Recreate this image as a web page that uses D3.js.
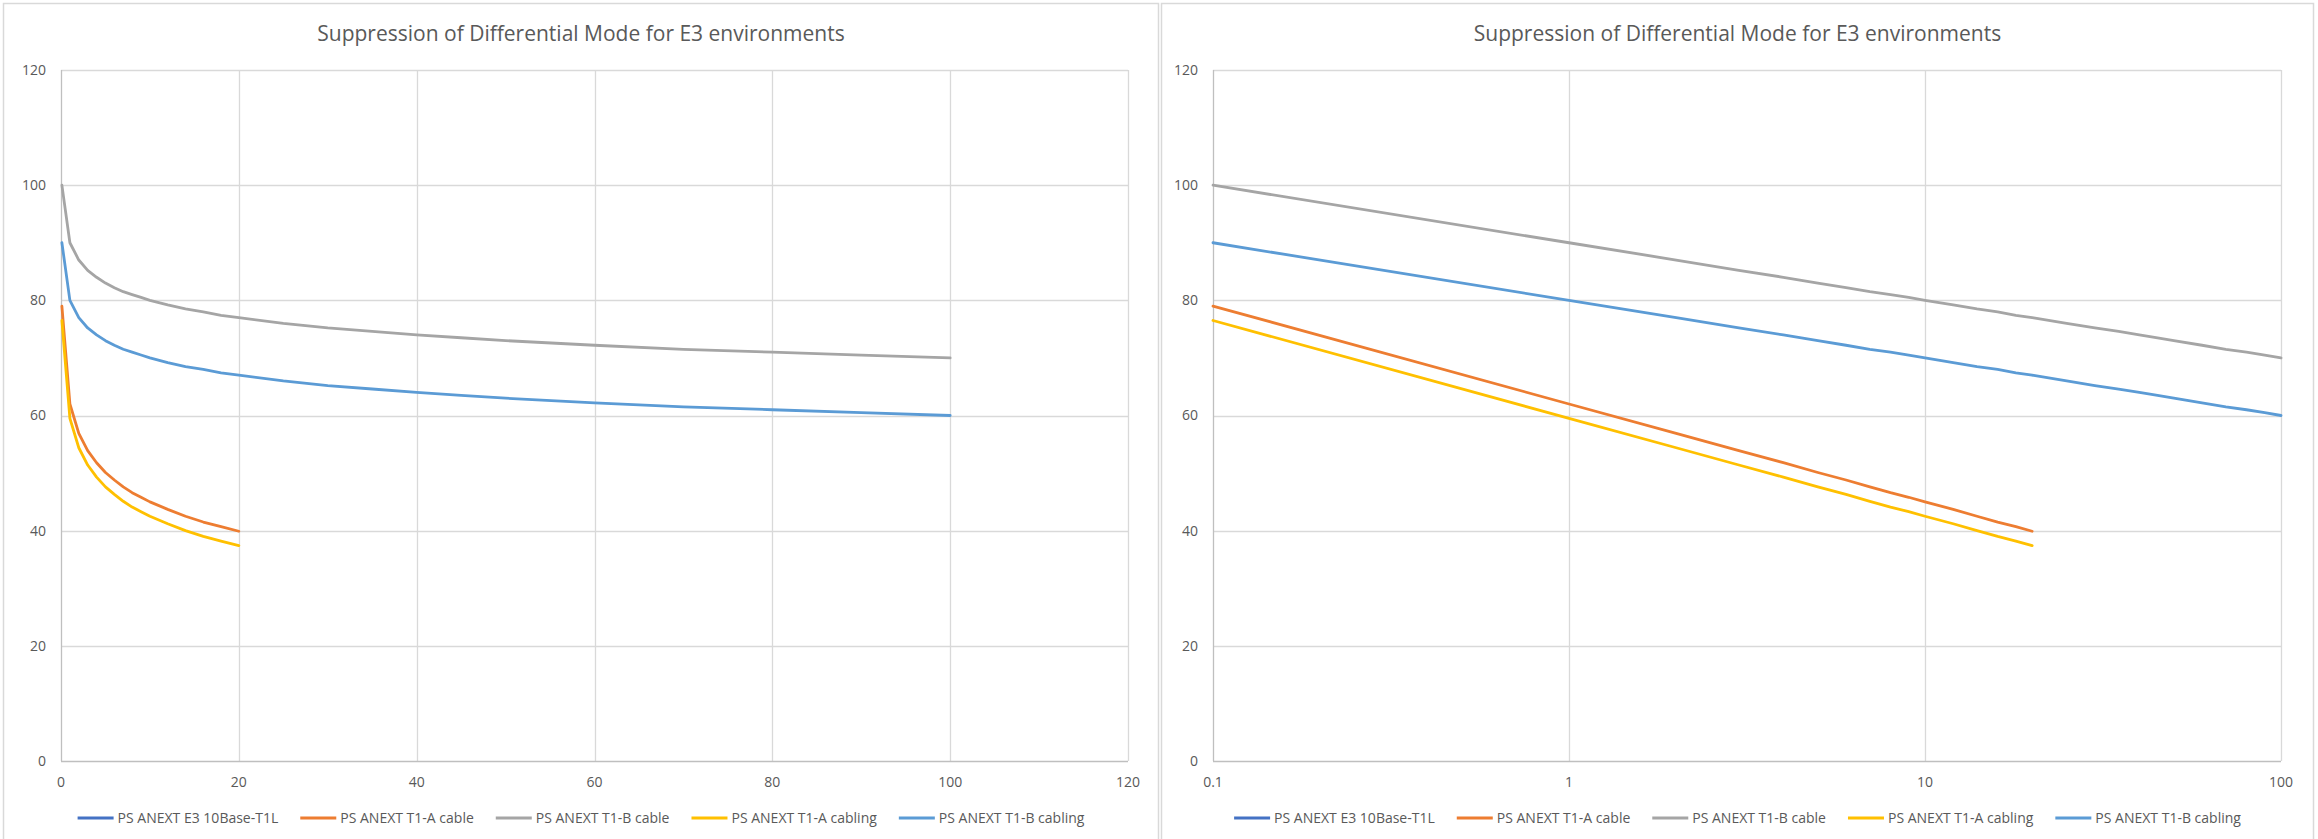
<!DOCTYPE html>
<html><head><meta charset="utf-8">
<script src="https://cdn.jsdelivr.net/npm/d3@7"></script>
<style>body{margin:0;background:#fff}svg{display:block}</style>
</head><body>
<svg id="c" width="2318" height="839"></svg>
<script>
// ---- data ----
const titleText = "Suppression of Differential Mode for E3 environments";
const seriesNames = ["PS ANEXT E3 10Base-T1L", "PS ANEXT T1-A cable", "PS ANEXT T1-B cable", "PS ANEXT T1-A cabling", "PS ANEXT T1-B cabling"];
const seriesColors = ["#4472C4", "#ED7D31", "#A5A5A5", "#FFC000", "#5B9BD5"];

const freqB = [0.1, 1, 2, 3, 4, 5, 6, 7, 8, 9, 10, 12, 14, 16, 18, 20, 25, 30, 35, 40, 45, 50, 60, 70, 80, 90, 100];
const t1bCable = [100, 90, 87.0, 85.2, 84.0, 83.0, 82.2, 81.5, 81.0, 80.5, 80.0, 79.2, 78.5, 78.0, 77.4, 77.0, 76.0, 75.2, 74.6, 74.0, 73.5, 73.0, 72.2, 71.5, 71.0, 70.5, 70.0];
const t1bCabling = [90, 80, 77.0, 75.2, 74.0, 73.0, 72.2, 71.5, 71.0, 70.5, 70.0, 69.2, 68.5, 68.0, 67.4, 67.0, 66.0, 65.2, 64.6, 64.0, 63.5, 63.0, 62.2, 61.5, 61.0, 60.5, 60.0];

const freqA = [0.1, 1, 2, 3, 4, 5, 6, 7, 8, 9, 10, 12, 14, 16, 18, 20];
const t1aCable = [79.0, 62.0, 56.9, 53.9, 51.8, 50.1, 48.8, 47.6, 46.6, 45.8, 45.0, 43.7, 42.5, 41.5, 40.7, 39.9];
const t1aCabling = [76.5, 59.5, 54.4, 51.4, 49.3, 47.6, 46.3, 45.1, 44.1, 43.3, 42.5, 41.2, 40.0, 39.0, 38.2, 37.4];

const e3Freq = [];      // series present in legend only, no visible line
const e3Values = [];

const yTicks = [0, 20, 40, 60, 80, 100, 120];
const xTicksLin = [0, 20, 40, 60, 80, 100, 120];
const xTicksLog = [0.1, 1, 10, 100];

// ---- build ----
const series = [
  {name: seriesNames[0], color: seriesColors[0], x: e3Freq, y: e3Values},
  {name: seriesNames[1], color: seriesColors[1], x: freqA, y: t1aCable},
  {name: seriesNames[2], color: seriesColors[2], x: freqB, y: t1bCable},
  {name: seriesNames[3], color: seriesColors[3], x: freqA, y: t1aCabling},
  {name: seriesNames[4], color: seriesColors[4], x: freqB, y: t1bCabling}
];

const svg = d3.select("#c");
const FONT = "'Open Sans', sans-serif";
const TXT = "#595959";

function panel(cfg) {
  const g = svg.append("g");
  g.append("rect").attr("x", cfg.bx0 + 0.5).attr("y", 3.5)
    .attr("width", cfg.bx1 - cfg.bx0 - 1).attr("height", 900)
    .attr("fill", "#fff").attr("stroke", "#d9d9d9").attr("stroke-width", 1.5);

  const x = cfg.log
    ? d3.scaleLog().domain([0.1, 100]).range([cfg.left, cfg.right])
    : d3.scaleLinear().domain([0, 120]).range([cfg.left, cfg.right]);
  const y = d3.scaleLinear().domain([0, 120]).range([761, 70]);
  const xt = cfg.log ? xTicksLog : xTicksLin;

  g.selectAll(".hg").data(yTicks.filter(d => d > 0)).join("line")
    .attr("x1", cfg.left).attr("x2", cfg.right)
    .attr("y1", d => Math.round(y(d)) + 0.5).attr("y2", d => Math.round(y(d)) + 0.5)
    .attr("stroke", "#d9d9d9").attr("stroke-width", 1.3);
  g.selectAll(".vg").data(xt.slice(1)).join("line")
    .attr("y1", 70).attr("y2", 761)
    .attr("x1", d => Math.round(x(d)) + 0.5).attr("x2", d => Math.round(x(d)) + 0.5)
    .attr("stroke", "#d9d9d9").attr("stroke-width", 1.3);
  g.append("line").attr("x1", cfg.left).attr("x2", cfg.right)
    .attr("y1", Math.round(y(0)) + 0.5).attr("y2", Math.round(y(0)) + 0.5)
    .attr("stroke", "#bfbfbf").attr("stroke-width", 1.3);
  g.append("line").attr("x1", Math.round(cfg.left) + 0.5).attr("x2", Math.round(cfg.left) + 0.5)
    .attr("y1", 70).attr("y2", 761)
    .attr("stroke", "#bfbfbf").attr("stroke-width", 1.3);

  g.selectAll(".yl").data(yTicks).join("text")
    .attr("x", cfg.left - 15).attr("y", d => y(d)).attr("dy", "0.35em")
    .attr("text-anchor", "end").attr("font-family", FONT).attr("font-size", 14)
    .attr("fill", TXT).text(d => d);
  g.selectAll(".xl").data(xt).join("text")
    .attr("x", d => x(d)).attr("y", 782).attr("dy", "0.35em")
    .attr("text-anchor", "middle").attr("font-family", FONT).attr("font-size", 14)
    .attr("fill", TXT).text(d => d);

  g.append("text").attr("x", (cfg.bx0 + cfg.bx1) / 2).attr("y", 34).attr("dy", "0.35em")
    .attr("text-anchor", "middle").attr("font-family", FONT).attr("font-size", 21)
    .attr("fill", TXT).text(titleText);

  const line = d3.line().x(d => x(d[0])).y(d => y(d[1]));
  series.forEach(s => {
    if (!s.x.length) return;
    g.append("path").datum(s.x.map((v, i) => [v, s.y[i]]))
      .attr("d", line).attr("fill", "none").attr("stroke", s.color)
      .attr("stroke-width", 2.8).attr("stroke-linejoin", "round").attr("stroke-linecap", "round");
  });

  const lg = g.append("g");
  let cx = 0;
  series.forEach(s => {
    const it = lg.append("g").attr("transform", `translate(${cx},0)`);
    it.append("line").attr("x1", 0).attr("x2", 36).attr("y1", 0).attr("y2", 0)
      .attr("stroke", s.color).attr("stroke-width", 2.8);
    const t = it.append("text").attr("x", 40).attr("y", 0).attr("dy", "0.35em")
      .attr("font-family", FONT).attr("font-size", 14).attr("fill", TXT).text(s.name);
    cx += 40 + t.node().getComputedTextLength() + 22;
  });
  const total = cx - 22;
  lg.attr("transform", `translate(${(cfg.bx0 + cfg.bx1) / 2 - total / 2},818)`);
}

panel({bx0: 3, bx1: 1159, left: 61, right: 1128, log: false});
panel({bx0: 1161, bx1: 2314, left: 1213, right: 2281, log: true});
</script>
</body></html>
